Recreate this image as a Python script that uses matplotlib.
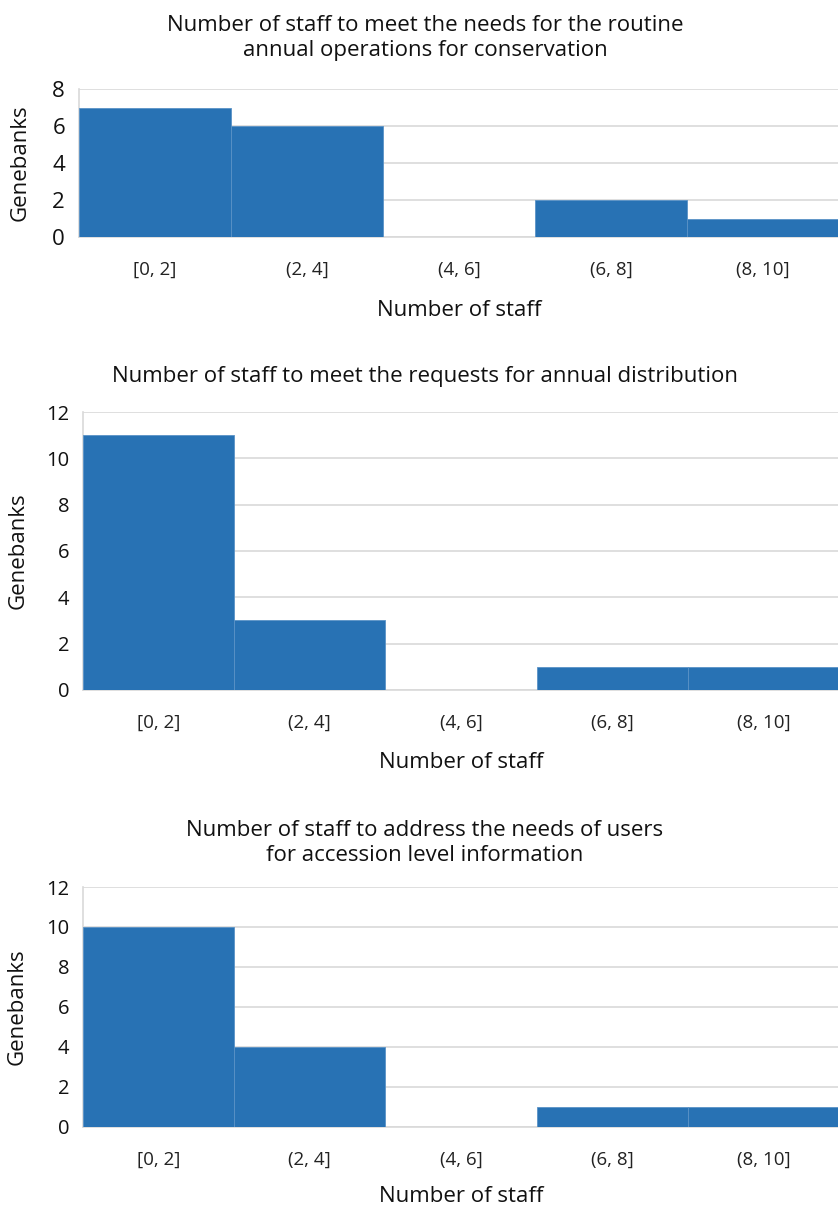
import matplotlib
matplotlib.use("Agg")
import matplotlib.pyplot as plt

plt.rcParams['font.family'] = ['Open Sans', 'DejaVu Sans']

W, H = 838, 1209

bins = ["[0, 2]", "(2, 4]", "(4, 6]", "(6, 8]", "(8, 10]"]

# genebank counts per staff bin
conservation = [7, 6, 0, 2, 1]
distribution = [11, 3, 0, 1, 1]
information = [10, 4, 0, 1, 1]

titles = [
    "Number of staff to meet the needs for the routine\nannual operations for conservation",
    "Number of staff to meet the requests for annual distribution",
    "Number of staff to address the needs of users\nfor accession level information",
]
ymaxes = [8, 12, 12]

# panel boxes in pixels: left, right, top, bottom
boxes = [(79, 839, 89, 237), (83, 839, 412, 690), (83, 839, 887, 1127)]
title_y = [38, 377, 843]
xlabel_y = [310, 763, 1196]
ylabel_x = [20, 18, 17]
ytick_size = [16, 14.5, 14.5]

BLUE = "#2872b4"
GRID = "#d9d9d9"


def fx(x):
    return x / W


def fy(y):
    return 1 - y / H


fig = plt.figure(figsize=(W / 100, H / 100), dpi=100)

for i, vals in enumerate([conservation, distribution, information]):
    l, r, t, b = boxes[i]
    ax = fig.add_axes([fx(l), fy(b), fx(r) - fx(l), fy(t) - fy(b)])
    ax.bar(range(len(bins)), vals, width=1.0, color=BLUE,
           edgecolor="#5a92c6", linewidth=0.6, zorder=3)
    ax.set_xlim(-0.5, len(bins) - 0.5)
    ax.set_ylim(0, ymaxes[i])
    ax.set_yticks(range(0, ymaxes[i] + 1, 2))
    ax.set_xticks(range(len(bins)))
    ax.set_xticklabels(bins, fontsize=13.5, color="#222222")
    ax.tick_params(axis="y", labelsize=ytick_size[i], length=0, pad=10, colors="#111111")
    ax.tick_params(axis="x", length=0, pad=17)
    ax.yaxis.grid(True, color=GRID, linewidth=1.2, zorder=0)
    for side in ["top", "right"]:
        ax.spines[side].set_visible(False)
    ax.spines["left"].set_color(GRID)
    ax.spines["bottom"].set_color(GRID)
    ax.spines["left"].set_linewidth(1.2)
    ax.spines["bottom"].set_linewidth(1.2)

    fig.text(fx(425), fy(title_y[i]), titles[i], ha="center", va="center",
             fontsize=16, linespacing=1.25, color="#111111")
    fig.text(fx((l + r) / 2), fy(xlabel_y[i]), "Number of staff", ha="center",
             va="center", fontsize=16, color="#111111")
    fig.text(fx(ylabel_x[i]), fy((t + b) / 2), "Genebanks", ha="center",
             va="center", rotation=90, fontsize=16, color="#111111")

fig.savefig("out.png", dpi=100)
